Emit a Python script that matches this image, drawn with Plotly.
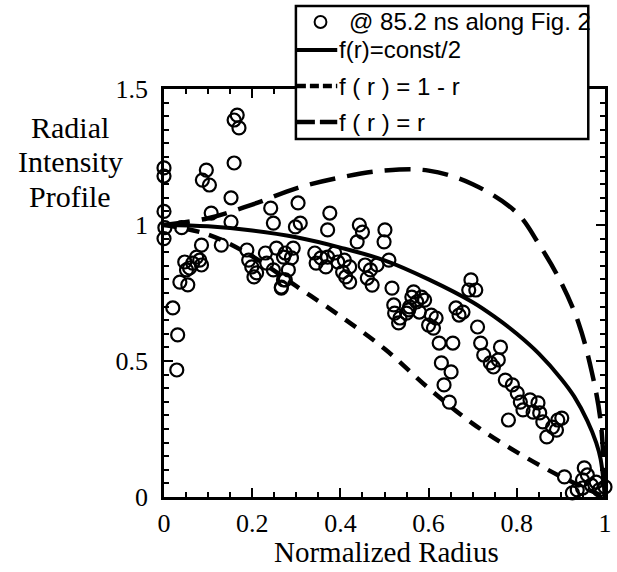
import plotly.graph_objects as go

# ---------------- data ----------------
r_meas = [0.0, 0.0, 0.0, 0.002, 0.0, 0.02, 0.031, 0.029, 0.036, 0.054,
          0.04, 0.047, 0.065, 0.058, 0.081, 0.074, 0.085, 0.051, 0.085, 0.13,
          0.096, 0.087, 0.103, 0.107, 0.152, 0.159, 0.166, 0.159, 0.17, 0.152,
          0.242, 0.248, 0.188, 0.192, 0.199, 0.21, 0.204, 0.23, 0.255, 0.271,
          0.233, 0.248, 0.271, 0.266, 0.304, 0.376, 0.371, 0.298, 0.309, 0.443,
          0.45, 0.501, 0.499, 0.438, 0.275, 0.293, 0.289, 0.282, 0.275, 0.266,
          0.342, 0.356, 0.345, 0.371, 0.387, 0.394, 0.367, 0.409, 0.421, 0.405,
          0.412, 0.421, 0.456, 0.468, 0.461, 0.472, 0.483, 0.51, 0.517, 0.521,
          0.523, 0.535, 0.55, 0.562, 0.557, 0.532, 0.566, 0.584, 0.573, 0.591,
          0.555, 0.579, 0.606, 0.617, 0.6, 0.611, 0.624, 0.655, 0.629, 0.651,
          0.635, 0.647, 0.696, 0.691, 0.707, 0.662, 0.678, 0.669, 0.711, 0.718,
          0.725, 0.763, 0.74, 0.758, 0.747, 0.774, 0.79, 0.801, 0.808, 0.814,
          0.83, 0.848, 0.852, 0.837, 0.781, 0.868, 0.893, 0.902, 0.89, 0.881,
          0.859, 0.908, 0.953, 0.96, 0.949, 0.969, 0.98, 0.937, 0.987, 1.0,
          0.949, 0.926]
y_meas = [1.21, 1.18, 1.05, 0.99, 0.95, 0.695, 0.596, 0.467, 0.79, 0.78,
          0.99, 0.864, 0.86, 0.842, 0.871, 0.882, 0.853, 0.835, 0.926, 0.926,
          1.202, 1.165, 1.147, 1.044, 1.10, 1.228, 1.404, 1.386, 1.357, 1.011,
          1.062, 1.007, 0.908, 0.871, 0.846, 0.824, 0.809, 0.897, 0.915, 0.882,
          0.86, 0.835, 0.798, 0.768, 1.081, 1.044, 0.982, 0.993, 1.007, 1.0,
          0.974, 0.982, 0.938, 0.938, 0.897, 0.915, 0.879, 0.835, 0.798, 0.772,
          0.897, 0.879, 0.86, 0.882, 0.897, 0.864, 0.846, 0.871, 0.846, 0.827,
          0.809, 0.79, 0.853, 0.835, 0.805, 0.779, 0.853, 0.871, 0.768, 0.706,
          0.676, 0.658, 0.676, 0.735, 0.699, 0.64, 0.754, 0.735, 0.717, 0.724,
          0.688, 0.68, 0.669, 0.658, 0.632, 0.621, 0.566, 0.566, 0.493, 0.46,
          0.412, 0.349, 0.798, 0.761, 0.761, 0.695, 0.68, 0.669, 0.625, 0.566,
          0.522, 0.551, 0.493, 0.504, 0.478, 0.43, 0.412, 0.382, 0.349, 0.32,
          0.357, 0.346, 0.309, 0.312, 0.283, 0.221, 0.283, 0.29, 0.246, 0.257,
          0.276, 0.074, 0.107, 0.081, 0.063, 0.044, 0.055, 0.026, 0.026, 0.037,
          0.033, 0.015]

r_const = [0.0, 0.1, 0.2, 0.3, 0.4, 0.5, 0.6, 0.7, 0.75, 0.8, 0.85, 0.9,
           0.93, 0.96, 0.98, 0.99, 1.0]
y_const = [1.0, 0.995, 0.98, 0.955, 0.917, 0.87, 0.80, 0.716, 0.662, 0.60,
           0.527, 0.436, 0.37, 0.28, 0.20, 0.14, 0.0]

r_oneminus = [0.0, 0.1, 0.2, 0.3, 0.4, 0.5, 0.6, 0.7, 0.8, 0.9, 1.0]
y_oneminus = [1.0, 0.965, 0.885, 0.775, 0.665, 0.545, 0.40, 0.27, 0.165,
              0.075, 0.0]

r_lin = [0.0, 0.1, 0.2, 0.3, 0.4, 0.5, 0.6, 0.7, 0.8, 0.85, 0.9, 0.94,
         0.97, 0.99, 1.0]
y_lin = [1.0, 1.025, 1.075, 1.135, 1.175, 1.2, 1.2, 1.15, 1.045, 0.93,
         0.79, 0.64, 0.46, 0.28, 0.0]

x_ticks = [0, 0.2, 0.4, 0.6, 0.8, 1]
x_ticktext = ["0", "0.2", "0.4", "0.6", "0.8", "1"]
y_ticks = [0, 0.5, 1, 1.5]
y_ticktext = ["0", "0.5", "1", "1.5"]

legend_names = ["@ 85.2 ns along Fig. 2", "f(r)=const/2", "f ( r ) = 1 - r", "f ( r ) = r"]

# ---------------- layout geometry (page pixels) ----------------
W, H = 617, 572
L, T = 164, 89
R = W - 612
B = H - 497
pw, ph = W - L - R, H - T - B


def px(x):
    return (x - L) / pw


def py(y):
    return (H - B - y) / ph


SERIF = "Liberation Serif"
SANS = "Liberation Sans, Arial"

fig = go.Figure()
fig.add_trace(go.Scatter(
    x=r_meas, y=y_meas, mode="markers", name=legend_names[0],
    marker=dict(symbol="circle-open", size=13, color="black",
                line=dict(width=2.2, color="black")),
    cliponaxis=False, showlegend=False))
fig.add_trace(go.Scatter(
    x=r_const, y=y_const, mode="lines", name=legend_names[1],
    line=dict(color="black", width=4, shape="spline"), showlegend=False))
fig.add_trace(go.Scatter(
    x=r_oneminus, y=y_oneminus, mode="lines", name=legend_names[2],
    line=dict(color="black", width=4.5, dash="13px,10px", shape="spline"),
    showlegend=False))
fig.add_trace(go.Scatter(
    x=r_lin, y=y_lin, mode="lines", name=legend_names[3],
    line=dict(color="black", width=4.5, dash="26px,12px", shape="spline"),
    showlegend=False))

axis_common = dict(
    showgrid=False, zeroline=False, showline=True, linecolor="black",
    linewidth=2.5, mirror="allticks", ticks="inside", ticklen=9,
    tickwidth=2, tickcolor="black",
    tickfont=dict(family=SERIF, size=26, color="black"),
)

fig.update_xaxes(range=[0, 1], tickmode="array", tickvals=x_ticks,
                 ticktext=x_ticktext, ticklabelstandoff=1,
                 minor=dict(dtick=0.05, tick0=0, ticks="inside", ticklen=5,
                            tickwidth=2, tickcolor="black", showgrid=False),
                 **axis_common)
fig.update_yaxes(range=[0, 1.5], tickmode="array", tickvals=y_ticks,
                 ticktext=y_ticktext, ticklabelstandoff=8,
                 minor=dict(dtick=0.05, tick0=0, ticks="inside", ticklen=5,
                            tickwidth=2, tickcolor="black", showgrid=False),
                 **axis_common)

shapes = []
# legend box
shapes.append(dict(type="rect", xref="paper", yref="paper",
                   x0=px(298), x1=px(595), y0=py(139), y1=py(6),
                   line=dict(color="black", width=2.5), fillcolor="white",
                   layer="above"))
# legend samples
shapes.append(dict(type="circle", xref="paper", yref="paper",
                   x0=px(317), x1=px(329), y0=py(28), y1=py(16),
                   line=dict(color="black", width=2), layer="above"))
shapes.append(dict(type="line", xref="paper", yref="paper",
                   x0=px(299), x1=px(340), y0=py(50), y1=py(50),
                   line=dict(color="black", width=4), layer="above"))
shapes.append(dict(type="line", xref="paper", yref="paper",
                   x0=px(299), x1=px(340), y0=py(86), y1=py(86),
                   line=dict(color="black", width=4.5, dash="9px,4px"),
                   layer="above"))
shapes.append(dict(type="line", xref="paper", yref="paper",
                   x0=px(299), x1=px(340), y0=py(122), y1=py(122),
                   line=dict(color="black", width=4.5, dash="18px,5px"),
                   layer="above"))

annotations = []
legend_text_pos = [(351, 22), (341, 50), (341, 86), (341, 122)]
for name, (tx, ty) in zip(legend_names, legend_text_pos):
    annotations.append(dict(
        text=name, xref="paper", yref="paper", x=px(tx), y=py(ty),
        xanchor="left", yanchor="middle", showarrow=False, borderpad=0,
        font=dict(family=SANS, size=24, color="black")))
for word, wy in zip(["Radial", "Intensity", "Profile"], [127, 161, 196]):
    annotations.append(dict(
        text=word, xref="paper", yref="paper",
        x=px(69), y=py(wy), xanchor="center", yanchor="middle",
        showarrow=False, font=dict(family=SERIF, size=30, color="black")))
annotations.append(dict(
    text="Normalized Radius", xref="paper", yref="paper",
    x=px(390), y=py(552), xanchor="center", yanchor="middle",
    showarrow=False, borderpad=0,
    font=dict(family=SERIF, size=29, color="black")))

fig.update_layout(
    width=W, height=H, autosize=False,
    margin=dict(l=L, r=R, t=T, b=B, pad=0),
    paper_bgcolor="white", plot_bgcolor="white",
    shapes=shapes, annotations=annotations, showlegend=False,
)

# remove the browser's default 8px page margin so the figure fills the window
fig.write_html("out.html", config={"responsive": False, "displayModeBar": False},
               post_script="document.body.style.margin='0';"
                           "document.documentElement.style.overflow='hidden';")
